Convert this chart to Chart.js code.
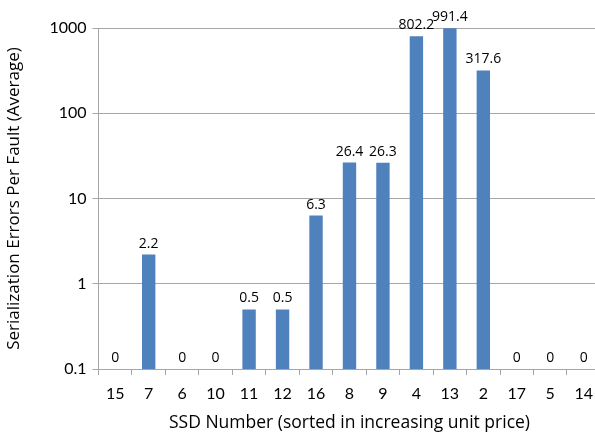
<!DOCTYPE html>
<html><head><meta charset="utf-8">
<script src="https://cdn.jsdelivr.net/npm/chart.js@4/dist/chart.umd.min.js"></script>
<style>html,body{margin:0;padding:0;overflow:hidden;background:#fff}#wrap{width:602px;height:436px}</style>
</head><body><div id="wrap"><canvas id="c" width="602" height="436"></canvas></div>
<script>
const categories = ['15','7','6','10','11','12','16','8','9','4','13','2','17','5','14'];
const errorsPerFault = [0, 2.2, 0, 0, 0.5, 0.5, 6.3, 26.4, 26.3, 802.2, 991.4, 317.6, 0, 0, 0];
const yTicks = [0.1, 1, 10, 100, 1000];
const FONT = 'Lato, "Open Sans", sans-serif';
const TFONT = '"Open Sans", sans-serif';

const labelPlugin = {
  id: 'labels',
  afterDatasetsDraw(chart) {
    const ctx = chart.ctx;
    const meta = chart.getDatasetMeta(0);
    ctx.save();
    ctx.font = '14px ' + TFONT;
    ctx.fillStyle = '#000';
    ctx.textAlign = 'center';
    ctx.textBaseline = 'alphabetic';
    meta.data.forEach((el, i) => {
      ctx.fillText(String(errorsPerFault[i]), el.x, el.y - 7);
    });
    ctx.restore();
  }
};

new Chart(document.getElementById('c'), {
  type: 'bar',
  data: { labels: categories, datasets: [{ data: errorsPerFault, backgroundColor: '#4F81BD', barPercentage: 0.4, categoryPercentage: 1 }] },
  options: {
    responsive: false, animation: false,
    layout: { padding: { left: 0, right: 0, top: 28, bottom: 0 } },
    plugins: { legend: { display: false }, tooltip: { enabled: false } },
    scales: {
      x: {
        grid: { display: true, offset: true, drawOnChartArea: false, color: '#a6a6a6', tickLength: 6 },
        border: { color: '#a6a6a6' },
        ticks: { font: { size: 16, family: FONT }, color: '#000', padding: 9, maxRotation: 0 },
        title: { display: true, text: 'SSD Number (sorted in increasing unit price)', font: { size: 17.5, family: TFONT }, color: '#000', padding: { top: 0, bottom: 2 } },
        afterFit(s) { s.height = 67; }
      },
      y: {
        type: 'logarithmic', min: 0.1, max: 1000,
        afterBuildTicks(s) { s.ticks = yTicks.map(v => ({ value: v })); },
        grid: { color: '#a6a6a6', tickLength: 6 },
        border: { color: '#a6a6a6' },
        ticks: { font: { size: 16, family: FONT }, color: '#000', padding: 6, callback: v => String(v) },
        title: { display: true, text: 'Serialization Errors Per Fault (Average)', font: { size: 17, family: TFONT }, color: '#000', padding: { top: 4, bottom: 4 } },
        afterFit(s) { s.width = 98.5; }
      }
    }
  },
  plugins: [labelPlugin]
});
</script></body></html>
